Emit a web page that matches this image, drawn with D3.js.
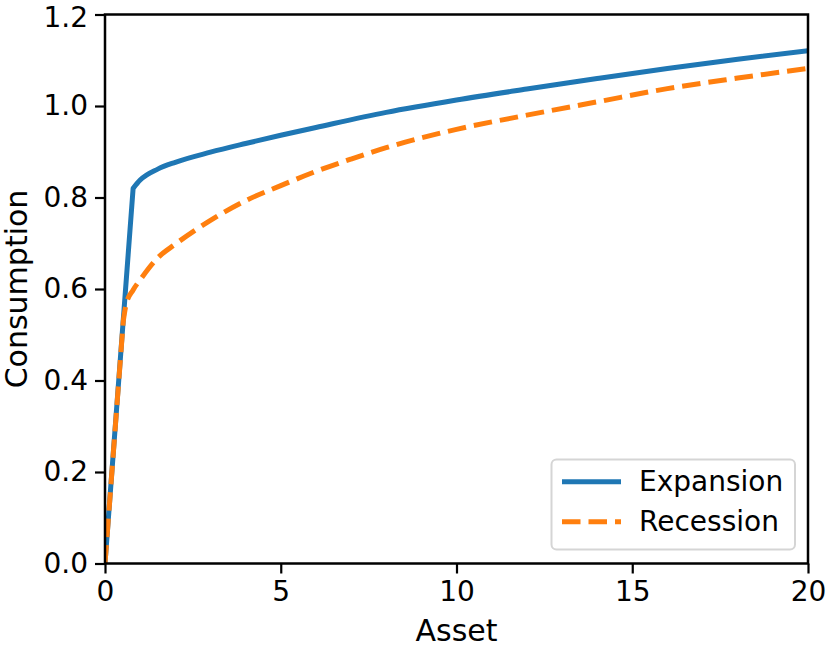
<!DOCTYPE html>
<html>
<head>
<meta charset="utf-8">
<script src="https://cdn.jsdelivr.net/npm/d3@7"></script>
<style>
  html, body { margin: 0; padding: 0; background: #fff; }
  svg { display: block; font-family: "DejaVu Sans", sans-serif; }
</style>
</head>
<body>
<svg id="chart" width="830" height="651"></svg>
<script>
// ---- data ----
const expansionAsset = [0, 0.8, 1.0, 1.5, 2, 3, 4, 5, 6, 8, 10, 12, 14, 16, 18, 20];
const expansionCons  = [0, 0.82, 0.838, 0.862, 0.877, 0.899, 0.918, 0.936, 0.953, 0.986, 1.013, 1.037, 1.06, 1.082, 1.102, 1.121];
const recessionAsset = [0, 0.52, 0.6, 0.8, 1.0, 1.5, 2, 3, 4, 5, 6, 7, 8, 10, 12, 14, 16, 18, 20];
const recessionCons  = [0, 0.53, 0.566, 0.598, 0.62, 0.668, 0.698, 0.75, 0.793, 0.826, 0.857, 0.884, 0.909, 0.949, 0.98, 1.009, 1.038, 1.061, 1.082];
const xTicks = [0, 5, 10, 15, 20];
const yTicks = [0, 0.2, 0.4, 0.6, 0.8, 1.0, 1.2];
const seriesNames = ["Expansion", "Recession"];
const seriesColors = ["#1f77b4", "#ff7f0e"];

// ---- layout ----
const margin = { left: 105, top: 14.5 };
const W = 703, H = 549;
const svg = d3.select("#chart");

const x = d3.scaleLinear().domain([0, 20]).range([0, W]);
const y = d3.scaleLinear().domain([0, 1.2]).range([H, 0]);

svg.append("defs").append("clipPath").attr("id", "clip")
  .append("rect").attr("x", margin.left).attr("y", margin.top).attr("width", W).attr("height", H);

// path: straight segment from origin to kink, then smooth curve
function buildPath(ax, cy) {
  const pts = ax.map((a, i) => [a, cy[i]]);
  const curvePts = pts.slice(1);
  const line = d3.line().x(d => x(d[0])).y(d => y(d[1])).curve(d3.curveMonotoneX);
  return `M${x(pts[0][0])},${y(pts[0][1])}` + line(curvePts).replace(/^M/, "L");
}

const clipG = svg.append("g").attr("clip-path", "url(#clip)")
  .append("g").attr("transform", `translate(${margin.left},${margin.top})`);

clipG.append("path")
  .attr("d", buildPath(expansionAsset, expansionCons))
  .attr("fill", "none").attr("stroke", seriesColors[0]).attr("stroke-width", 5)
  .attr("stroke-linejoin", "round");
clipG.append("path")
  .attr("d", buildPath(recessionAsset, recessionCons))
  .attr("fill", "none").attr("stroke", seriesColors[1]).attr("stroke-width", 5)
  .attr("stroke-dasharray", "18.5,8");

// ---- axes ----
const ax = svg.append("g").attr("transform", `translate(${margin.left},${margin.top})`);
const xAxis = d3.axisBottom(x).tickValues(xTicks).tickFormat(d3.format("d")).tickSize(10).tickPadding(8);
const yAxis = d3.axisLeft(y).tickValues(yTicks).tickFormat(d3.format(".1f")).tickSize(10).tickPadding(7);

const xg = ax.append("g").attr("transform", `translate(0,${H})`).call(xAxis);
const yg = ax.append("g").call(yAxis);
[xg, yg].forEach(a => {
  a.select(".domain").remove();
  a.selectAll(".tick line").attr("stroke", "#000").attr("stroke-width", 2.2);
  a.selectAll(".tick text").attr("fill", "#000").style("font-size", "28px").style("font-family", "DejaVu Sans");
});
// keep the top tick label inside the picture
yg.selectAll(".tick text").filter(d => d === 1.2).attr("dy", "0.42em");

// spines
ax.append("rect").attr("x", 0).attr("y", 0).attr("width", W).attr("height", H)
  .attr("fill", "none").attr("stroke", "#000").attr("stroke-width", 2.5);

// axis labels
svg.append("text").attr("x", margin.left + W / 2).attr("y", 641)
  .attr("text-anchor", "middle").style("font-size", "30px").text("Asset");
svg.append("text").attr("transform", `translate(27,${margin.top + H / 2}) rotate(-90)`)
  .attr("text-anchor", "middle").style("font-size", "30px").text("Consumption");

// ---- legend ----
const lg = svg.append("g");
lg.append("rect").attr("x", 551.5).attr("y", 459.5).attr("width", 243.5).attr("height", 90)
  .attr("rx", 5).attr("fill", "#fff").attr("fill-opacity", 0.8)
  .attr("stroke", "#d5d5d5").attr("stroke-width", 2);
seriesNames.forEach((name, i) => {
  const yy = 481.7 + i * 40;
  lg.append("line").attr("x1", 562).attr("x2", 621).attr("y1", yy).attr("y2", yy)
    .attr("stroke", seriesColors[i]).attr("stroke-width", 5)
    .attr("stroke-dasharray", i === 1 ? "18.5,8" : null);
  lg.append("text").attr("x", 639).attr("y", yy + 9.5)
    .style("font-size", "28px").text(name);
});
</script>
</body>
</html>
